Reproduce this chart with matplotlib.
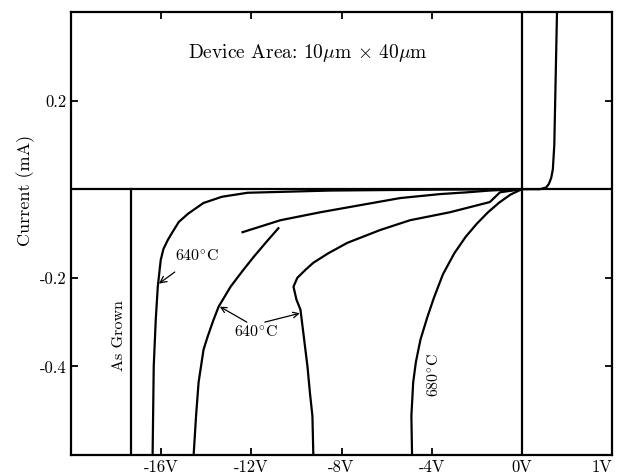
import numpy as np
import matplotlib
matplotlib.use("Agg")
import matplotlib.pyplot as plt

plt.rcParams['font.family'] = ['cmr10', 'DejaVu Serif']
plt.rcParams['mathtext.fontset'] = 'cm'
plt.rcParams['axes.unicode_minus'] = False

# curves (volts, mA)
a_v = [-16.38, -16.33, -16.24, -16.15, -16.02, -15.9, -15.71, -15.5, -15.22, -14.8, -14.12, -13.3, -12.17, -8.5, -4.0, 0.0]
a_i = [-0.60, -0.400, -0.294, -0.220, -0.160, -0.135, -0.115, -0.097, -0.074, -0.055, -0.031, -0.017, -0.008, -0.003, -0.001, 0.0]

c_v = [-14.56, -14.45, -14.34, -14.12, -13.94, -13.7, -13.45, -12.92, -12.4, -11.90, -11.35, -10.80]
c_i = [-0.60, -0.51, -0.436, -0.362, -0.333, -0.298, -0.265, -0.220, -0.185, -0.153, -0.120, -0.088]

b_v = [-12.39, -10.71, -8.94, -7.17, -5.40, -3.63, -2.43, -1.42, -0.6, 0.0]
b_i = [-0.097, -0.070, -0.052, -0.036, -0.020, -0.011, -0.007, -0.003, -0.001, 0.0]

e_v = [-9.25, -9.29, -9.4, -9.51, -9.82, -10.0, -10.13, -9.96, -9.6, -9.25, -8.6, -7.74, -6.28, -4.96, -3.19, -1.42, -0.97, 0.0]
e_i = [-0.60, -0.512, -0.46, -0.400, -0.272, -0.249, -0.220, -0.200, -0.182, -0.166, -0.145, -0.121, -0.092, -0.070, -0.052, -0.029, -0.007, 0.0]

d_v = [-4.87, -4.9, -4.82, -4.7, -4.5, -4.2, -3.9, -3.5, -3.0, -2.5, -2.0, -1.5, -1.0, -0.5, 0.0]
d_i = [-0.60, -0.512, -0.436, -0.390, -0.340, -0.290, -0.245, -0.192, -0.145, -0.108, -0.078, -0.052, -0.030, -0.012, 0.0]

fwd_v = [0.0, 0.2, 0.27, 0.3, 0.325, 0.344, 0.36, 0.375, 0.39]
fwd_i = [0.0, 0.0, 0.004, 0.012, 0.025, 0.045, 0.10, 0.25, 0.40]

grown_v = [-17.35, -17.35]
grown_i = [0.0, -0.60]

xticks = [-16, -12, -8, -4, 0, 1]
xlabels = ['-16V', '-12V', '-8V', '-4V', '0V', '1V']
yticks = [0.2, -0.2, -0.4]
ylabels = ['0.2', '-0.2', '-0.4']


def fwd(v):
    v = np.asarray(v, dtype=float)
    return np.where(v < 0, v, 4 * v)


def inv(u):
    u = np.asarray(u, dtype=float)
    return np.where(u < 0, u, u / 4)


fig = plt.figure(figsize=(6.19, 4.73), dpi=100)
ax = fig.add_axes([0.1147, 0.038, 0.874, 0.9366])
ax.set_xscale('function', functions=(fwd, inv))
ax.set_xlim(-20, 1)
ax.set_ylim(-0.6, 0.4)

lw = 1.6
ax.axhline(0, color='black', lw=lw)
ax.axvline(0, color='black', lw=lw)
for v, i in [(a_v, a_i), (c_v, c_i), (b_v, b_i), (e_v, e_i), (d_v, d_i),
             (fwd_v, fwd_i), (grown_v, grown_i)]:
    ax.plot(v, i, color='black', lw=lw, solid_joinstyle='round')

ax.set_xticks(xticks)
ax.set_xticklabels(xlabels, fontsize=12)
ax.get_xticklabels()[-1].set_horizontalalignment('right')
ax.set_yticks(yticks)
ax.set_yticklabels(ylabels, fontsize=12)
ax.tick_params(direction='in', length=5, width=1.3, top=True, right=True, pad=3)
for s in ax.spines.values():
    s.set_linewidth(1.6)

ax.set_ylabel('Current (mA)', fontsize=13)
ax.yaxis.set_label_coords(-0.066, 0.598)

ax.text(-9.5, 0.308, r'Device Area: 10$\mu$m $\times$ 40$\mu$m', fontsize=14,
        ha='center', va='center')

deg = r'640$^{\circ}$C'
ax.annotate(deg, xy=(-16.1, -0.213), xytext=(-14.4, -0.15), fontsize=11.5,
            ha='center', va='center',
            arrowprops=dict(arrowstyle='->', color='black', lw=0.9, shrinkA=7, shrinkB=0))
ax.text(-11.8, -0.323, deg, fontsize=11.5, ha='center', va='center')
ax.annotate('', xy=(-13.4, -0.265), xytext=(-12.2, -0.30),
            arrowprops=dict(arrowstyle='->', color='black', lw=0.9, shrinkA=0, shrinkB=0))
ax.annotate('', xy=(-9.85, -0.28), xytext=(-11.4, -0.30),
            arrowprops=dict(arrowstyle='->', color='black', lw=0.9, shrinkA=0, shrinkB=0))
ax.text(-3.9, -0.42, r'680$^{\circ}$C', fontsize=11.5, rotation=90, ha='center', va='center')
ax.text(-17.85, -0.33, 'As Grown', fontsize=11.5, rotation=90, ha='center', va='center')

fig.savefig('out.png', dpi=100)
